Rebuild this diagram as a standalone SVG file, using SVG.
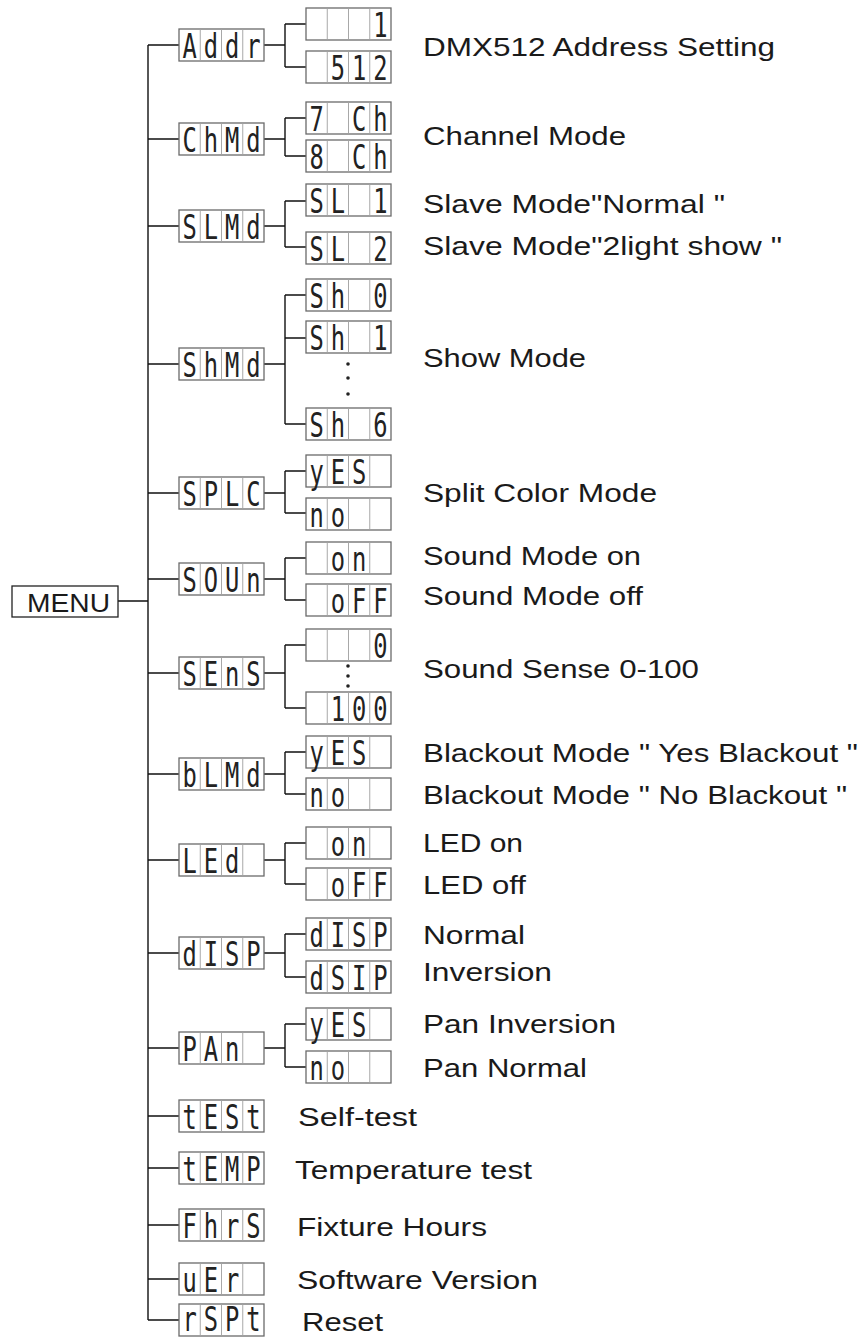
<svg xmlns="http://www.w3.org/2000/svg" xmlns:xlink="http://www.w3.org/1999/xlink" width="861" height="1338" viewBox="0 0 861 1338">
<style>
.bg{fill:#fff}
.o{fill:#fff;stroke:#6a6a6a;stroke-width:1.3}
.dv{stroke:#a8a8a8;stroke-width:1}
.seg{font-family:"DejaVu Sans Mono",monospace;font-size:33px;fill:#222;text-anchor:middle}
.lbl{font-family:"Liberation Sans",Arial,sans-serif;font-size:26px;fill:#1a1a1a}
.conn{fill:none;stroke:#111;stroke-width:1.4}
.dot{fill:#222}
.menu{fill:#fff;stroke:#222;stroke-width:1.3}
</style>
<defs>
<g id="box">
<rect class="o" x="0" y="0" width="85" height="32"/>
<line class="dv" x1="21.25" y1="0.7" x2="21.25" y2="31.3"/>
<line class="dv" x1="42.5" y1="0.7" x2="42.5" y2="31.3"/>
<line class="dv" x1="63.75" y1="0.7" x2="63.75" y2="31.3"/>
</g>
</defs>
<rect class="bg" x="0" y="0" width="861" height="1338"/>

<g id="connectors">
<path class="conn" d="M148 45 V1320 M118 601 H148"/>
<path class="conn" d="M148 45 H179 M264 45 H285 M285 24 V67 M285 24 H306 M285 67 H306"/>
<path class="conn" d="M148 139 H179 M264 139 H285 M285 118 V156 M285 118 H306 M285 156 H306"/>
<path class="conn" d="M148 226 H179 M264 226 H285 M285 201 V247 M285 201 H306 M285 247 H306"/>
<path class="conn" d="M148 364 H179 M264 364 H285 M285 295 V424 M285 295 H306 M285 338 H306 M285 424 H306"/>
<path class="conn" d="M148 493 H179 M264 493 H285 M285 471 V513 M285 471 H306 M285 513 H306"/>
<path class="conn" d="M148 579 H179 M264 579 H285 M285 558 V600 M285 558 H306 M285 600 H306"/>
<path class="conn" d="M148 673 H179 M264 673 H285 M285 645 V708 M285 645 H306 M285 708 H306"/>
<path class="conn" d="M148 774 H179 M264 774 H285 M285 752 V794 M285 752 H306 M285 794 H306"/>
<path class="conn" d="M148 860 H179 M264 860 H285 M285 843 V884 M285 843 H306 M285 884 H306"/>
<path class="conn" d="M148 953 H179 M264 953 H285 M285 934 V977 M285 934 H306 M285 977 H306"/>
<path class="conn" d="M148 1048 H179 M264 1048 H285 M285 1024 V1067 M285 1024 H306 M285 1067 H306"/>
<path class="conn" d="M148 1116 H179 M148 1168 H179 M148 1225 H179 M148 1279 H179 M148 1320 H179"/>
</g>

<g id="menu">
<rect class="menu" x="12" y="586" width="106" height="31"/>
<text class="lbl" x="27" y="612" textLength="83" lengthAdjust="spacingAndGlyphs">MENU</text>
</g>

<g id="addr">
<use xlink:href="#box" x="179" y="29"/>
<text class="seg" xml:space="preserve" transform="translate(179,29) scale(0.72,1)" x="14.76 44.27 73.78 103.3" y="28.5">Addr</text>
<use xlink:href="#box" x="306" y="8"/>
<text class="seg" xml:space="preserve" transform="translate(306,8) scale(0.72,1)" x="14.76 44.27 73.78 103.3" y="28.5">   1</text>
<use xlink:href="#box" x="306" y="51"/>
<text class="seg" xml:space="preserve" transform="translate(306,51) scale(0.72,1)" x="14.76 44.27 73.78 103.3" y="28.5"> 512</text>
<text class="lbl" x="423" y="56" textLength="352" lengthAdjust="spacingAndGlyphs">DMX512 Address Setting</text>
</g>

<g id="chmd">
<use xlink:href="#box" x="179" y="123"/>
<text class="seg" xml:space="preserve" transform="translate(179,123) scale(0.72,1)" x="14.76 44.27 73.78 103.3" y="28.5">ChMd</text>
<use xlink:href="#box" x="306" y="102"/>
<text class="seg" xml:space="preserve" transform="translate(306,102) scale(0.72,1)" x="14.76 44.27 73.78 103.3" y="28.5">7 Ch</text>
<use xlink:href="#box" x="306" y="140"/>
<text class="seg" xml:space="preserve" transform="translate(306,140) scale(0.72,1)" x="14.76 44.27 73.78 103.3" y="28.5">8 Ch</text>
<text class="lbl" x="423" y="145" textLength="203" lengthAdjust="spacingAndGlyphs">Channel Mode</text>
</g>

<g id="slmd">
<use xlink:href="#box" x="179" y="210"/>
<text class="seg" xml:space="preserve" transform="translate(179,210) scale(0.72,1)" x="14.76 44.27 73.78 103.3" y="28.5">SLMd</text>
<use xlink:href="#box" x="306" y="184"/>
<text class="seg" xml:space="preserve" transform="translate(306,184) scale(0.72,1)" x="14.76 44.27 73.78 103.3" y="28.5">SL 1</text>
<use xlink:href="#box" x="306" y="232"/>
<text class="seg" xml:space="preserve" transform="translate(306,232) scale(0.72,1)" x="14.76 44.27 73.78 103.3" y="28.5">SL 2</text>
<text class="lbl" x="423" y="213" textLength="302" lengthAdjust="spacingAndGlyphs">Slave Mode"Normal "</text>
<text class="lbl" x="423" y="255" textLength="359" lengthAdjust="spacingAndGlyphs">Slave Mode"2light show "</text>
</g>

<g id="shmd">
<use xlink:href="#box" x="179" y="348"/>
<text class="seg" xml:space="preserve" transform="translate(179,348) scale(0.72,1)" x="14.76 44.27 73.78 103.3" y="28.5">ShMd</text>
<use xlink:href="#box" x="306" y="279"/>
<text class="seg" xml:space="preserve" transform="translate(306,279) scale(0.72,1)" x="14.76 44.27 73.78 103.3" y="28.5">Sh 0</text>
<use xlink:href="#box" x="306" y="321"/>
<text class="seg" xml:space="preserve" transform="translate(306,321) scale(0.72,1)" x="14.76 44.27 73.78 103.3" y="28.5">Sh 1</text>
<circle class="dot" cx="348" cy="364" r="1.8"/>
<circle class="dot" cx="348" cy="378" r="1.8"/>
<circle class="dot" cx="348" cy="394" r="1.8"/>
<use xlink:href="#box" x="306" y="408"/>
<text class="seg" xml:space="preserve" transform="translate(306,408) scale(0.72,1)" x="14.76 44.27 73.78 103.3" y="28.5">Sh 6</text>
<text class="lbl" x="423" y="367" textLength="163" lengthAdjust="spacingAndGlyphs">Show Mode</text>
</g>

<g id="splc">
<use xlink:href="#box" x="179" y="477"/>
<text class="seg" xml:space="preserve" transform="translate(179,477) scale(0.72,1)" x="14.76 44.27 73.78 103.3" y="28.5">SPLC</text>
<use xlink:href="#box" x="306" y="455"/>
<text class="seg" xml:space="preserve" transform="translate(306,455) scale(0.72,1)" x="14.76 44.27 73.78 103.3" y="28.5">yES </text>
<use xlink:href="#box" x="306" y="498"/>
<text class="seg" xml:space="preserve" transform="translate(306,498) scale(0.72,1)" x="14.76 44.27 73.78 103.3" y="28.5">no  </text>
<text class="lbl" x="423" y="502" textLength="234" lengthAdjust="spacingAndGlyphs">Split Color Mode</text>
</g>

<g id="soun">
<use xlink:href="#box" x="179" y="563"/>
<text class="seg" xml:space="preserve" transform="translate(179,563) scale(0.72,1)" x="14.76 44.27 73.78 103.3" y="28.5">SOUn</text>
<use xlink:href="#box" x="306" y="542"/>
<text class="seg" xml:space="preserve" transform="translate(306,542) scale(0.72,1)" x="14.76 44.27 73.78 103.3" y="28.5"> on </text>
<use xlink:href="#box" x="306" y="584"/>
<text class="seg" xml:space="preserve" transform="translate(306,584) scale(0.72,1)" x="14.76 44.27 73.78 103.3" y="28.5"> oFF</text>
<text class="lbl" x="423" y="565" textLength="218" lengthAdjust="spacingAndGlyphs">Sound Mode on</text>
<text class="lbl" x="423" y="605" textLength="220" lengthAdjust="spacingAndGlyphs">Sound Mode off</text>
</g>

<g id="sens">
<use xlink:href="#box" x="179" y="657"/>
<text class="seg" xml:space="preserve" transform="translate(179,657) scale(0.72,1)" x="14.76 44.27 73.78 103.3" y="28.5">SEnS</text>
<use xlink:href="#box" x="306" y="629"/>
<text class="seg" xml:space="preserve" transform="translate(306,629) scale(0.72,1)" x="14.76 44.27 73.78 103.3" y="28.5">   0</text>
<circle class="dot" cx="348" cy="666" r="1.8"/>
<circle class="dot" cx="348" cy="676" r="1.8"/>
<circle class="dot" cx="348" cy="686" r="1.8"/>
<use xlink:href="#box" x="306" y="692"/>
<text class="seg" xml:space="preserve" transform="translate(306,692) scale(0.72,1)" x="14.76 44.27 73.78 103.3" y="28.5"> 100</text>
<text class="lbl" x="423" y="678" textLength="276" lengthAdjust="spacingAndGlyphs">Sound Sense 0-100</text>
</g>

<g id="blmd">
<use xlink:href="#box" x="179" y="758"/>
<text class="seg" xml:space="preserve" transform="translate(179,758) scale(0.72,1)" x="14.76 44.27 73.78 103.3" y="28.5">bLMd</text>
<use xlink:href="#box" x="306" y="736"/>
<text class="seg" xml:space="preserve" transform="translate(306,736) scale(0.72,1)" x="14.76 44.27 73.78 103.3" y="28.5">yES </text>
<use xlink:href="#box" x="306" y="778"/>
<text class="seg" xml:space="preserve" transform="translate(306,778) scale(0.72,1)" x="14.76 44.27 73.78 103.3" y="28.5">no  </text>
<text class="lbl" x="423" y="762" textLength="435" lengthAdjust="spacingAndGlyphs">Blackout Mode " Yes Blackout "</text>
<text class="lbl" x="423" y="804" textLength="424" lengthAdjust="spacingAndGlyphs">Blackout Mode " No Blackout "</text>
</g>

<g id="led">
<use xlink:href="#box" x="179" y="844"/>
<text class="seg" xml:space="preserve" transform="translate(179,844) scale(0.72,1)" x="14.76 44.27 73.78 103.3" y="28.5">LEd </text>
<use xlink:href="#box" x="306" y="827"/>
<text class="seg" xml:space="preserve" transform="translate(306,827) scale(0.72,1)" x="14.76 44.27 73.78 103.3" y="28.5"> on </text>
<use xlink:href="#box" x="306" y="868"/>
<text class="seg" xml:space="preserve" transform="translate(306,868) scale(0.72,1)" x="14.76 44.27 73.78 103.3" y="28.5"> oFF</text>
<text class="lbl" x="423" y="852" textLength="100" lengthAdjust="spacingAndGlyphs">LED on</text>
<text class="lbl" x="423" y="894" textLength="103" lengthAdjust="spacingAndGlyphs">LED off</text>
</g>

<g id="disp">
<use xlink:href="#box" x="179" y="937"/>
<text class="seg" xml:space="preserve" transform="translate(179,937) scale(0.72,1)" x="14.76 44.27 73.78 103.3" y="28.5">dISP</text>
<use xlink:href="#box" x="306" y="918"/>
<text class="seg" xml:space="preserve" transform="translate(306,918) scale(0.72,1)" x="14.76 44.27 73.78 103.3" y="28.5">dISP</text>
<use xlink:href="#box" x="306" y="961"/>
<text class="seg" xml:space="preserve" transform="translate(306,961) scale(0.72,1)" x="14.76 44.27 73.78 103.3" y="28.5">dSIP</text>
<text class="lbl" x="423" y="944" textLength="102" lengthAdjust="spacingAndGlyphs">Normal</text>
<text class="lbl" x="423" y="981" textLength="129" lengthAdjust="spacingAndGlyphs">Inversion</text>
</g>

<g id="pan">
<use xlink:href="#box" x="179" y="1032"/>
<text class="seg" xml:space="preserve" transform="translate(179,1032) scale(0.72,1)" x="14.76 44.27 73.78 103.3" y="28.5">PAn </text>
<use xlink:href="#box" x="306" y="1008"/>
<text class="seg" xml:space="preserve" transform="translate(306,1008) scale(0.72,1)" x="14.76 44.27 73.78 103.3" y="28.5">yES </text>
<use xlink:href="#box" x="306" y="1051"/>
<text class="seg" xml:space="preserve" transform="translate(306,1051) scale(0.72,1)" x="14.76 44.27 73.78 103.3" y="28.5">no  </text>
<text class="lbl" x="423" y="1033" textLength="193" lengthAdjust="spacingAndGlyphs">Pan Inversion</text>
<text class="lbl" x="423" y="1077" textLength="164" lengthAdjust="spacingAndGlyphs">Pan Normal</text>
</g>

<g id="test">
<use xlink:href="#box" x="179" y="1100"/>
<text class="seg" xml:space="preserve" transform="translate(179,1100) scale(0.72,1)" x="14.76 44.27 73.78 103.3" y="28.5">tESt</text>
<text class="lbl" x="298" y="1126" textLength="119" lengthAdjust="spacingAndGlyphs">Self-test</text>
</g>

<g id="temp">
<use xlink:href="#box" x="179" y="1152"/>
<text class="seg" xml:space="preserve" transform="translate(179,1152) scale(0.72,1)" x="14.76 44.27 73.78 103.3" y="28.5">tEMP</text>
<text class="lbl" x="295" y="1179" textLength="237" lengthAdjust="spacingAndGlyphs">Temperature test</text>
</g>

<g id="fhrs">
<use xlink:href="#box" x="179" y="1209"/>
<text class="seg" xml:space="preserve" transform="translate(179,1209) scale(0.72,1)" x="14.76 44.27 73.78 103.3" y="28.5">FhrS</text>
<text class="lbl" x="297" y="1236" textLength="190" lengthAdjust="spacingAndGlyphs">Fixture Hours</text>
</g>

<g id="ver">
<use xlink:href="#box" x="179" y="1263"/>
<text class="seg" xml:space="preserve" transform="translate(179,1263) scale(0.72,1)" x="14.76 44.27 73.78 103.3" y="28.5">uEr </text>
<text class="lbl" x="297" y="1289" textLength="241" lengthAdjust="spacingAndGlyphs">Software Version</text>
</g>

<g id="rspt">
<use xlink:href="#box" x="179" y="1304"/>
<text class="seg" xml:space="preserve" transform="translate(179,1304) scale(0.72,1)" x="14.76 44.27 73.78 103.3" y="27">rSPt</text>
<text class="lbl" x="302" y="1331" textLength="81" lengthAdjust="spacingAndGlyphs">Reset</text>
</g>
</svg>
